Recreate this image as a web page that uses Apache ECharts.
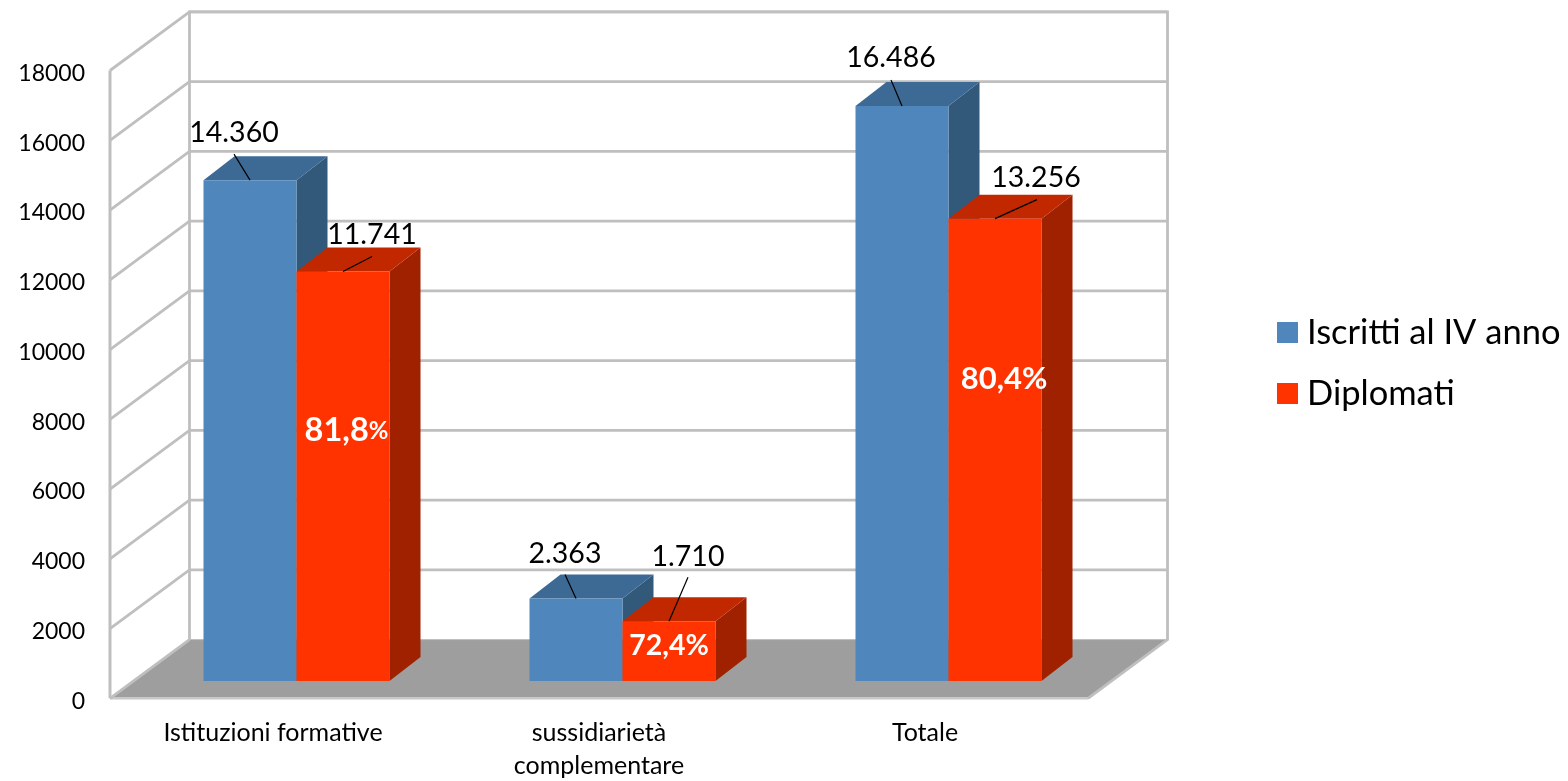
<!DOCTYPE html>
<html>
<head>
<meta charset="utf-8">
<style>html,body{margin:0;padding:0;background:#fff}#c{width:1568px;height:781px}</style>
<script src="https://cdn.jsdelivr.net/npm/echarts@6/dist/echarts.min.js"></script>
</head>
<body>
<div id="c"></div>
<script>
var categories = ['Istituzioni formative', 'sussidiarietà\ncomplementare', 'Totale'];
var iscritti = [14360, 2363, 16486];
var diplomati = [11741, 1710, 13256];
var percentLabels = ['81,8', '72,4', '80,4'];
var yTicks = [0, 2000, 4000, 6000, 8000, 10000, 12000, 14000, 16000, 18000];
var seriesNames = ['Iscritti al IV anno', 'Diplomati'];

var FONT = 'Lato, Carlito, sans-serif';
var GRID = '#BFBFBF';
var WALL = {dx: 79.5, dy: -58.7};
var BAR = {shiftX: 23.5, shiftY: -17.3, dx: 31, dy: -24, widthFrac: 93 / 326};
var blue = {front: '#4F87BC', top: '#3D6A94', side: '#32597A'};
var red = {front: '#FF3300', top: '#C22800', side: '#A02100'};
/* label anchor offsets, relative to the middle of each bar's top front edge */
var leaderIscritti = [[-16, -26, -16, -47], [-11, -24, -11, -45], [-11, -26, -11, -48]];
var leaderDiplomati = [[29, -15, 29, -37], [19, -44, 19, -65], [42, -19, 41, -41]];
var pctCentre = [[3.5, 431, 32.5, 24], [0, 646, 28.5, 28.5], [9, 379, 31, 31]];

function fmt(v) { return String(v).replace(/\B(?=(\d{3})+$)/g, '.'); }

function wallRender(params, api) {
  var cs = params.coordSys, L = cs.x, R = cs.x + cs.width, T = cs.y, B = cs.y + cs.height;
  return {type: 'group', children: [
    {type: 'polygon', shape: {points: [[L, B], [R, B], [R + WALL.dx, B + WALL.dy], [L + WALL.dx, B + WALL.dy]]},
     style: {fill: '#9E9E9E', stroke: '#BDBDBD', lineWidth: 1}},
    {type: 'polyline', shape: {points: [[L + WALL.dx, B + WALL.dy], [L + WALL.dx, T + WALL.dy], [R + WALL.dx, T + WALL.dy], [R + WALL.dx, B + WALL.dy], [R, B]]},
     style: {fill: null, stroke: GRID, lineWidth: 2.8}},
    {type: 'line', shape: {x1: L, y1: T, x2: L, y2: B}, style: {stroke: GRID, lineWidth: 3}},
    {type: 'line', shape: {x1: L, y1: B, x2: R, y2: B}, style: {stroke: '#C8C8C8', lineWidth: 2.5}}
  ]};
}

function gridRender(params, api) {
  var cs = params.coordSys, L = cs.x, R = cs.x + cs.width;
  var y = api.coord([0, api.value(1)])[1];
  var pts = api.value(1) === 0
    ? [[L, y], [L + WALL.dx, y + WALL.dy]]
    : [[L, y], [L + WALL.dx, y + WALL.dy], [R + WALL.dx, y + WALL.dy]];
  return {type: 'polyline', shape: {points: pts}, style: {fill: null, stroke: GRID, lineWidth: 2.8}};
}

function barRender(col, seriesSide, leaders, showPct) {
  return function (params, api) {
    var i = api.value(0), v = api.value(1);
    var top = api.coord([i, v]), base = api.coord([i, 0]);
    var w = api.size([1, 0])[0] * BAR.widthFrac;
    var x0 = top[0] + BAR.shiftX + (seriesSide < 0 ? -w : 0), x1 = x0 + w;
    var yt = top[1] + BAR.shiftY, yb = base[1] + BAR.shiftY;
    var d = BAR.dx, e = BAR.dy, cx = (x0 + x1) / 2, L = leaders[i];
    var kids = [
      {type: 'polygon', shape: {points: [[x1, yt], [x1 + d, yt + e], [x1 + d, yb + e], [x1, yb]]}, style: {fill: col.side}},
      {type: 'polygon', shape: {points: [[x0, yt], [x0 + d, yt + e], [x1 + d, yt + e], [x1, yt]]}, style: {fill: col.top}},
      {type: 'rect', shape: {x: x0, y: yt, width: w, height: yb - yt}, style: {fill: col.front}},
      {type: 'line', shape: {x1: cx, y1: yt, x2: cx + L[0], y2: yt + L[1]}, style: {stroke: '#000', lineWidth: 1.2}, z2: 5},
      {type: 'text', z2: 6, style: {text: fmt(v), x: cx + L[2], y: yt + L[3], align: 'center', verticalAlign: 'middle',
        fill: '#000', fontFamily: FONT, fontSize: 28.5}}
    ];
    if (showPct) {
      var p = pctCentre[i];
      kids.push({type: 'text', z2: 6, style: {text: '{n|' + percentLabels[i] + '}{p|%}', x: cx + p[0], y: p[1], align: 'center', verticalAlign: 'middle',
        rich: {n: {fill: '#fff', fontFamily: FONT, fontWeight: 'bold', fontSize: p[2]},
               p: {fill: '#fff', fontFamily: FONT, fontWeight: 'bold', fontSize: p[3]}}}});
    }
    return {type: 'group', children: kids};
  };
}

var chart = echarts.init(document.getElementById('c'), null, {renderer: 'canvas'});
chart.setOption({
  animation: false,
  backgroundColor: '#fff',
  textStyle: {fontFamily: FONT},
  grid: {left: 110, top: 70.5, width: 978, height: 627.8, containLabel: false, outerBoundsMode: 'none'},
  legend: {
    orient: 'vertical', left: 1277, top: 315, padding: 0, icon: 'rect', itemWidth: 21, itemHeight: 21, itemGap: 26,
    data: seriesNames, textStyle: {fontFamily: FONT, fontSize: 34.5, color: '#000', padding: [3, 0, 0, 4]}
  },
  xAxis: {
    type: 'category', data: categories,
    axisLine: {show: false}, axisTick: {show: false}, splitLine: {show: false},
    axisLabel: {interval: 0, color: '#000', fontFamily: FONT, fontSize: 25, margin: 18, lineHeight: 33}
  },
  yAxis: {
    type: 'value', min: 0, max: 18000, interval: 2000,
    axisLine: {show: false}, axisTick: {show: false}, splitLine: {show: false},
    axisLabel: {color: '#000', fontFamily: FONT, fontSize: 23, margin: 25, verticalAlign: 'top', lineHeight: 6, formatter: function (v) { return yTicks.indexOf(v) >= 0 ? String(v) : ''; }}
  },
  series: [
    {type: 'custom', name: 'walls', coordinateSystem: 'cartesian2d', silent: true, clip: false, z: 1, renderItem: wallRender, data: [[0, 0]], encode: {x: 0, y: 1}},
    {type: 'custom', name: 'gridlines', coordinateSystem: 'cartesian2d', silent: true, clip: false, z: 2, renderItem: gridRender,
     data: yTicks.map(function (t) { return [0, t]; }), encode: {x: 0, y: 1}},
    {type: 'custom', name: seriesNames[0], coordinateSystem: 'cartesian2d', clip: false, z: 3, itemStyle: {color: blue.front},
     renderItem: barRender(blue, -1, leaderIscritti, false),
     data: iscritti.map(function (v, i) { return [i, v]; }), encode: {x: 0, y: 1}},
    {type: 'custom', name: seriesNames[1], coordinateSystem: 'cartesian2d', clip: false, z: 4, itemStyle: {color: red.front},
     renderItem: barRender(red, 1, leaderDiplomati, true),
     data: diplomati.map(function (v, i) { return [i, v]; }), encode: {x: 0, y: 1}}
  ]
});
</script>
</body>
</html>
